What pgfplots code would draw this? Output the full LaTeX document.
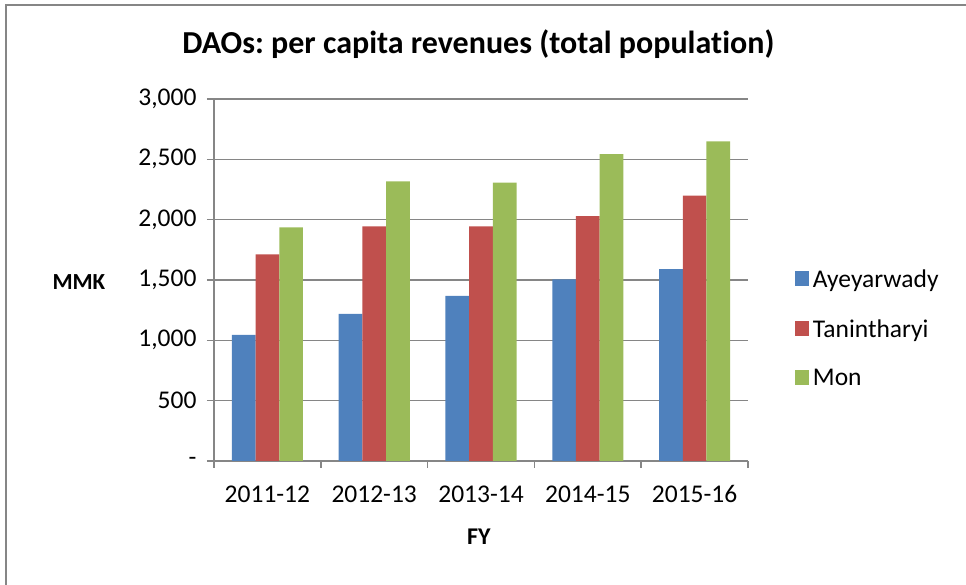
\documentclass[border=0pt]{standalone}
\usepackage{fontspec}
\setmainfont{Carlito}[Ligatures=NoCommon]
\usepackage{pgfplots}
\pgfplotsset{compat=1.18}
\definecolor{cA}{HTML}{4F81BD}
\definecolor{cT}{HTML}{C0504D}
\definecolor{cM}{HTML}{9BBB59}
\definecolor{gridc}{HTML}{868686}
\pgfplotsset{
  /pgfplots/ybar legend/.style={
    /pgfplots/legend image code/.code={\fill[##1] (0pt,-7pt) rectangle (14pt,8pt);}},
}
\frenchspacing
\begin{document}
\begin{tikzpicture}[x=1pt,y=1pt]
\path[use as bounding box] (0,0) rectangle (966,585);
\draw[gridc, line width=2pt] (6,0) -- (6,580) -- (966,580);
\begin{axis}[
  at={(214pt,124pt)}, anchor=south west,
  scale only axis, width=534pt, height=362pt,
  xmin=-0.5, xmax=4.5, ymin=0, ymax=3000,
  ybar=0pt, bar width=23.7pt,
  axis lines*=left,
  axis line style={gridc, line width=1.6pt},
  ymajorgrids, grid style={gridc, line width=1.6pt},
  ytick={0,500,1000,1500,2000,2500,3000},
  yticklabels={-,500,{1,000},{1,500},{2,000},{2,500},{3,000}},
  xtick={0,1,2,3,4},
  xticklabels={2011-12,2012-13,2013-14,2014-15,2015-16},
  minor xtick={-0.5,0.5,1.5,2.5,3.5,4.5},
  tick align=outside,
  major tick length=7pt, minor tick length=7pt,
  major x tick style={draw=none},
  every tick/.style={gridc, line width=1.6pt},
  minor tick style={gridc, line width=1.6pt},
  tick label style={font=\fontsize{25.5}{30}\selectfont, text=black},
  yticklabel style={xshift=-7pt},
  xticklabel style={yshift=-14pt},
  title={\bfseries DAOs: per capita revenues (total population)},
  title style={font=\fontsize{32}{38}\selectfont, at={(axis description cs:0.495,1.108)}, anchor=base},
  xlabel={\bfseries FY},
  xlabel style={font=\fontsize{24}{28}\selectfont, at={(axis description cs:0.496,-0.21)}, anchor=center},
  ylabel={\bfseries MMK},
  ylabel style={font=\fontsize{23}{27}\selectfont, rotate=-90, at={(axis description cs:-0.253,0.495)}, anchor=center},
  legend style={draw=none, fill=none, at={(axis description cs:1.082,0.54)}, anchor=north west,
    font=\fontsize{25.5}{30}\selectfont, row sep=26.5pt,
    nodes={inner xsep=4pt}},
  legend cell align=left,
]
\addplot[fill=cA, draw=none] coordinates {(0,1046) (1,1220) (2,1368) (3,1506) (4,1591)};
\addplot[fill=cT, draw=none] coordinates {(0,1713) (1,1944) (2,1944) (3,2029) (4,2200)};
\addplot[fill=cM, draw=none] coordinates {(0,1936) (1,2318) (2,2307) (3,2543) (4,2648)};
\legend{Ayeyarwady, Tanintharyi, Mon}
\end{axis}
\end{tikzpicture}
\end{document}
